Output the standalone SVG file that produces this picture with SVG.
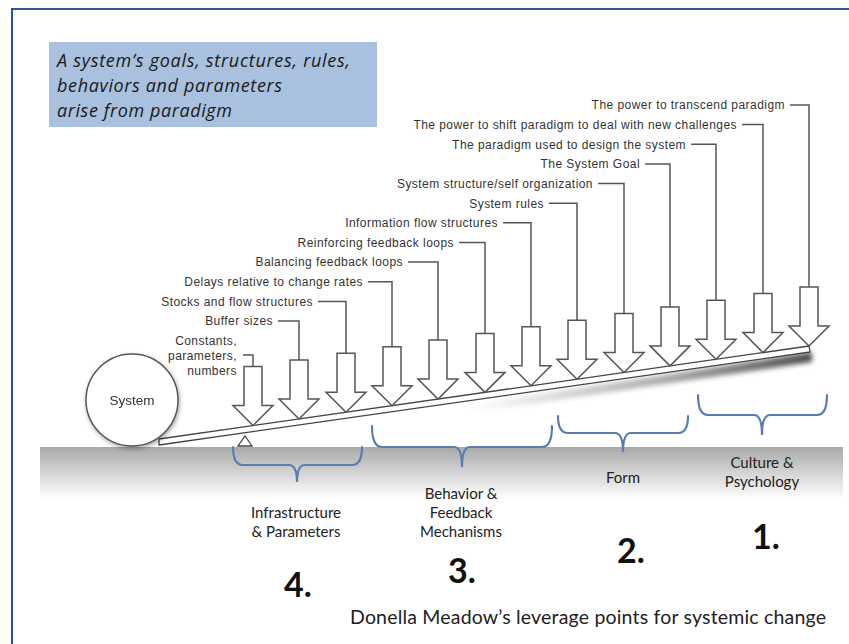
<svg xmlns="http://www.w3.org/2000/svg" xmlns:xlink="http://www.w3.org/1999/xlink" width="849" height="644" viewBox="0 0 849 644">
<style>
.lbl{font-family:"Liberation Sans",Arial,Helvetica,sans-serif;font-size:12px;letter-spacing:0.45px;fill:#333;text-anchor:end}
.lead{fill:none;stroke:#555;stroke-width:1.5}
.arrow{fill:#fff;stroke:#555;stroke-width:1.5;stroke-linejoin:miter}
.brace{fill:none;stroke:#5a7db0;stroke-width:2.2;stroke-linecap:round}
.cat{font-family:Lato,"Open Sans",sans-serif;font-size:15px;fill:#222;text-anchor:middle}
.num{font-family:Lato,"Open Sans",sans-serif;font-size:34px;font-weight:bold;fill:#111;text-anchor:middle}
</style>
<defs>
<path id="arr" d="M-9,0 H9 V39 H20 L0,59 L-20,39 H-9 Z"/>
<linearGradient id="gnd" x1="0" y1="0" x2="0" y2="1">
<stop offset="0" stop-color="#a9a9a9"/>
<stop offset="1" stop-color="#ffffff"/>
</linearGradient>
<linearGradient id="shg" x1="0" y1="0" x2="1" y2="0">
<stop offset="0" stop-color="#000" stop-opacity="0"/>
<stop offset="0.6" stop-color="#000" stop-opacity="0.35"/>
<stop offset="1" stop-color="#000" stop-opacity="0.7"/>
</linearGradient>
<filter id="blur" x="-10%" y="-100%" width="120%" height="300%"><feGaussianBlur stdDeviation="2.5"/></filter>
<filter id="csh" x="-20%" y="-20%" width="140%" height="140%"><feGaussianBlur in="SourceAlpha" stdDeviation="2"/><feOffset dx="1" dy="2"/><feComponentTransfer><feFuncA type="linear" slope="0.35"/></feComponentTransfer><feMerge><feMergeNode/><feMergeNode in="SourceGraphic"/></feMerge></filter>
</defs>
<rect x="0" y="0" width="849" height="644" fill="#fff"/>
<rect id="frame" x="12" y="9" width="860" height="660" fill="none" stroke="#2c5597" stroke-width="2"/>

<g id="ground">
<rect x="40" y="447" width="803" height="52" fill="url(#gnd)"/>
</g>

<g id="title-box">
<rect x="49" y="42" width="328" height="85" fill="#a9c1de"/>
<text font-family="'Open Sans',Lato,sans-serif" font-style="italic" font-size="18" fill="#1a1a1a">
<tspan x="57" y="67" textLength="293" lengthAdjust="spacing">A system’s goals, structures, rules,</tspan>
<tspan x="57" y="92" textLength="225" lengthAdjust="spacing">behaviors and parameters</tspan>
<tspan x="57" y="117" textLength="175" lengthAdjust="spacing">arise from paradigm</tspan>
</text>
</g>

<g id="beam">
<polygon points="470,405 812,352 812,362 470,413" fill="url(#shg)" filter="url(#blur)"/>
<polygon points="159,439 809,346 810,352 159,445" fill="#fff" stroke="#444" stroke-width="1.3" stroke-linejoin="round"/>
<polygon points="245,436 252,446 238,446" fill="#fff" stroke="#444" stroke-width="1.3"/>
</g>

<g id="system" filter="url(#csh)">
<circle cx="132" cy="400" r="46" fill="#fff" stroke="#555" stroke-width="1.5"/>
<text x="132" y="405" font-family="'Liberation Sans',Arial,sans-serif" font-size="13.5" fill="#333" text-anchor="middle">System</text>
</g>

<g id="connectors">
<polyline class="lead" points="243,355 253,355 253,366.5"/>
<polyline class="lead" points="278,321 299,321 299,360"/>
<polyline class="lead" points="318,301.4 346,301.4 346,353.2"/>
<polyline class="lead" points="368,281.7 392,281.7 392,346.7"/>
<polyline class="lead" points="408,262.1 438,262.1 438,340.1"/>
<polyline class="lead" points="459,242.4 485,242.4 485,333.4"/>
<polyline class="lead" points="503,222.8 531,222.8 531,326.8"/>
<polyline class="lead" points="549,203.2 577,203.2 577,320.2"/>
<polyline class="lead" points="598,183.5 624,183.5 624,313.5"/>
<polyline class="lead" points="645,163.9 670,163.9 670,306.9"/>
<polyline class="lead" points="691,144.2 716,144.2 716,300.3"/>
<polyline class="lead" points="742,124.6 763,124.6 763,293.6"/>
<polyline class="lead" points="790,105 809,105 809,287"/>
</g>

<g id="lp12">
<text class="lbl"><tspan x="237" y="345">Constants,</tspan><tspan x="237" y="360">parameters,</tspan><tspan x="237" y="375">numbers</tspan></text>
<use xlink:href="#arr" class="arrow" x="253" y="366.5"/>
</g>
<g id="lp11"><text class="lbl" x="273" y="325.3">Buffer sizes</text><use xlink:href="#arr" class="arrow" x="299" y="360"/></g>
<g id="lp10"><text class="lbl" x="313" y="305.7">Stocks and flow structures</text><use xlink:href="#arr" class="arrow" x="346" y="353.2"/></g>
<g id="lp9"><text class="lbl" x="363" y="286">Delays relative to change rates</text><use xlink:href="#arr" class="arrow" x="392" y="346.7"/></g>
<g id="lp8"><text class="lbl" x="403" y="266.4">Balancing feedback loops</text><use xlink:href="#arr" class="arrow" x="438" y="340.1"/></g>
<g id="lp7"><text class="lbl" x="454" y="246.7">Reinforcing feedback loops</text><use xlink:href="#arr" class="arrow" x="485" y="333.4"/></g>
<g id="lp6"><text class="lbl" x="498" y="227.1">Information flow structures</text><use xlink:href="#arr" class="arrow" x="531" y="326.8"/></g>
<g id="lp5"><text class="lbl" x="544" y="207.5">System rules</text><use xlink:href="#arr" class="arrow" x="577" y="320.2"/></g>
<g id="lp4"><text class="lbl" x="593" y="187.8">System structure/self organization</text><use xlink:href="#arr" class="arrow" x="624" y="313.5"/></g>
<g id="lp3"><text class="lbl" x="640" y="168.2">The System Goal</text><use xlink:href="#arr" class="arrow" x="670" y="306.9"/></g>
<g id="lp2"><text class="lbl" x="686" y="148.5">The paradigm used to design the system</text><use xlink:href="#arr" class="arrow" x="716" y="300.3"/></g>
<g id="lp1b"><text class="lbl" x="737" y="128.9">The power to shift paradigm to deal with new challenges</text><use xlink:href="#arr" class="arrow" x="763" y="293.6"/></g>
<g id="lp1"><text class="lbl" x="785" y="109.3">The power to transcend paradigm</text><use xlink:href="#arr" class="arrow" x="809" y="287"/></g>

<g id="cat4">
<path class="brace" d="M233,447 Q233,465 243,465 H289 Q297,465 297,482 Q297,465 305,465 H352 Q362,465 362,447"/>
<text class="cat"><tspan x="296" y="518">Infrastructure</tspan><tspan x="296" y="537">&amp; Parameters</tspan></text>
<text class="num" x="298" y="597">4.</text>
</g>
<g id="cat3">
<path class="brace" d="M372,426 Q372,447 382,447 H454 Q462,447 462,467 Q462,447 470,447 H542 Q552,447 552,426"/>
<text class="cat"><tspan x="461" y="499">Behavior &amp;</tspan><tspan x="461" y="518">Feedback</tspan><tspan x="461" y="537">Mechanisms</tspan></text>
<text class="num" x="462" y="583">3.</text>
</g>
<g id="cat2">
<path class="brace" d="M558,416 Q558,433 568,433 H615 Q623,433 623,452 Q623,433 631,433 H678 Q688,433 688,416"/>
<text class="cat" x="623" y="483">Form</text>
<text class="num" x="631" y="563">2.</text>
</g>
<g id="cat1">
<path class="brace" d="M698,395 Q698,415 708,415 H754 Q762,415 762,435 Q762,415 770,415 H817 Q827,415 827,395"/>
<text class="cat"><tspan x="762" y="468">Culture &amp;</tspan><tspan x="762" y="487">Psychology</tspan></text>
<text class="num" x="766" y="549">1.</text>
</g>

<text id="caption" x="350" y="624" font-family="Lato,'Open Sans',sans-serif" font-size="19.5" fill="#222" textLength="476" lengthAdjust="spacing">Donella Meadow’s leverage points for systemic change</text>
</svg>
